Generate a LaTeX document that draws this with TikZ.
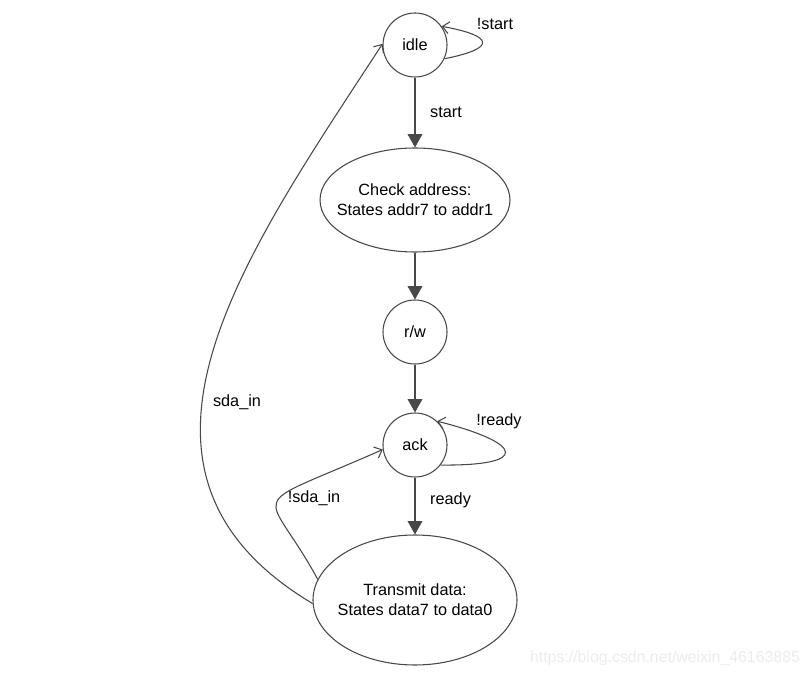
\documentclass[tikz,border=0pt]{standalone}
\usepackage{fontspec}
\setmainfont{Liberation Sans}
\usetikzlibrary{arrows.meta,shapes.geometric}
\definecolor{edgegray}{RGB}{72,72,72}
\definecolor{markgray}{RGB}{236,236,236}

\begin{document}
\begin{tikzpicture}[x=.75pt,y=-.75pt,font=\fontsize{12.2}{15}\selectfont,
  stcirc/.style={circle,draw=edgegray,line width=.8pt,minimum size=48pt,inner sep=0pt},
  stoval/.style={ellipse,draw=edgegray,line width=.8pt,align=center,inner xsep=-12pt,inner ysep=0pt},
  fwd/.style={draw=edgegray,line width=.8pt,-{Triangle[length=10pt,width=11pt]}},
  back/.style={draw=edgegray,line width=.8pt,-{Straight Barb[length=5pt,width=9pt]}},
  lbl/.style={inner sep=0pt}]
 \useasboundingbox(0,0)rectangle(811,677);
 % states, top to bottom (pixel coordinates, y downwards)
 \node[stcirc](idle)at(415,45){idle};
 \node[stoval,minimum width=142.5pt,minimum height=78pt](check)at(415,200){Check address:\\States addr7 to addr1};
 \node[stcirc](rw)at(415,332){r/w};
 \node[stcirc](ack)at(415,445){ack};
 \node[stoval,minimum width=153pt,minimum height=97.5pt](trans)at(415,600){Transmit data:\\States data7 to data0};
 % forward transitions
 \draw[fwd](idle)--node[lbl,right,xshift=11pt](lnstart){start}(check);
 \draw[fwd](check)--(rw);
 \draw[fwd](rw)--(ack);
 \draw[fwd](ack)--node[lbl,right,xshift=11pt,pos=.4](lnready){ready}(trans);
 % self loops
 \draw[back](idle.-25).. controls +(53,-10.5) and +(52,9.4) ..(idle.35);
 \node[lbl](lnnostart)at(495,24){!start};
 \draw[back](ack.-38).. controls +(90,1) and +(87,22) ..(ack.47);
 \node[lbl](lnnoready)at(499,421){!ready};
 % back to ack / idle
 \draw[back](trans.168).. controls +(-52,-96) and +(-144,63.5) ..(ack.188);
 \node[lbl](lnnosda)at(314,498){!sda\_in};
 \draw[back](trans.182).. controls +(-223,-133) and +(-137.5,211) ..(idle.178);
 \node[lbl](lnsda)at(237,402){sda\_in};
 \node[lbl,text=markgray,font=\fontsize{11.9}{14}\selectfont](wmark)at(665,658){https://blog.csdn.net/weixin\_46163885};
\end{tikzpicture}
\end{document}
